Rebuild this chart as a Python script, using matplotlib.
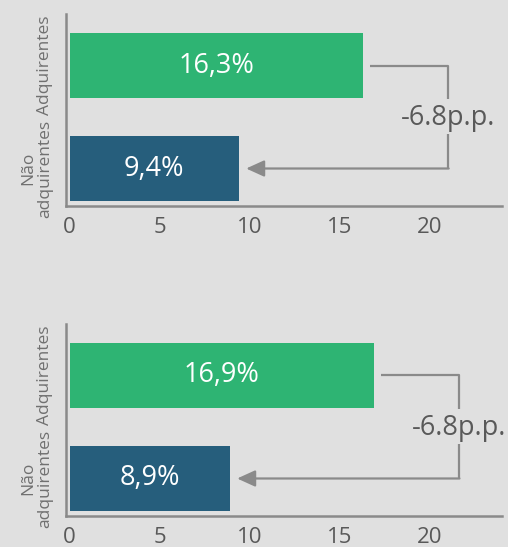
import matplotlib.pyplot as plt

plt.rcParams['font.family'] = ['Open Sans', 'DejaVu Sans']

groups = ['Adquirentes', 'Não\nadquirentes']
top_values = [16.3, 9.4]
bottom_values = [16.9, 8.9]
diff_labels = ['-6.8p.p.', '-6.8p.p.']
xticks = [0, 5, 10, 15, 20]

bg = '#e0e0e0'
green = '#2eb473'
blue = '#265e7c'
line_gray = '#8a8a8a'
text_gray = '#595959'

fig = plt.figure(figsize=(5.08, 5.47), dpi=100, facecolor=bg)

panels = [
    (top_values, diff_labels[0], [0.1299, 0.6234, 0.8583, 0.351]),
    (bottom_values, diff_labels[1], [0.1299, 0.0567, 0.8583, 0.351]),
]

for values, diff, rect in panels:
    ax = fig.add_axes(rect)
    ax.set_facecolor(bg)
    ypos = [1, 0]
    ax.barh(ypos, values, height=0.63, color=[green, blue])
    for y, v in zip(ypos, values):
        ax.text(v / 2, y, f'{v:.1f}%'.replace('.', ','), color='white',
                fontsize=19.5, ha='center', va='center')

    # bracket with arrow from the top bar to the bottom bar
    vx = values[0] + 4.7
    ax.plot([values[0] + 0.4, vx, vx], [1, 1, 0.675], color=line_gray, lw=1.6,
            solid_capstyle='butt')
    ax.plot([vx, vx], [0.335, 0], color=line_gray, lw=1.6, solid_capstyle='butt')
    ax.annotate('', xy=(values[1] + 0.4, 0), xytext=(vx + 0.04, 0),
                arrowprops=dict(arrowstyle='-|>,head_length=1.1,head_width=0.5',
                                color=line_gray, lw=1.6, shrinkA=0, shrinkB=0))
    ax.text(vx, 0.49, diff, color=text_gray, fontsize=19.5, ha='center', va='center')

    ax.set_xlim(-0.2, 24)
    ax.set_ylim(-0.364, 1.5)
    ax.set_xticks(xticks)
    ax.set_xticklabels([str(t) for t in xticks], fontsize=16, color=text_gray)
    ax.set_yticks(ypos)
    ax.set_yticklabels(groups, rotation=90, va='center', ha='right',
                       multialignment='center', fontsize=12.5, color='#707070',
                       linespacing=1.1)
    ax.tick_params(length=0)
    ax.tick_params(axis='x', pad=8)
    ax.tick_params(axis='y', pad=9)
    for s in ['top', 'right']:
        ax.spines[s].set_visible(False)
    for s in ['left', 'bottom']:
        ax.spines[s].set_color(line_gray)
        ax.spines[s].set_linewidth(1.8)

fig.savefig('out.png', dpi=100, facecolor=bg)
